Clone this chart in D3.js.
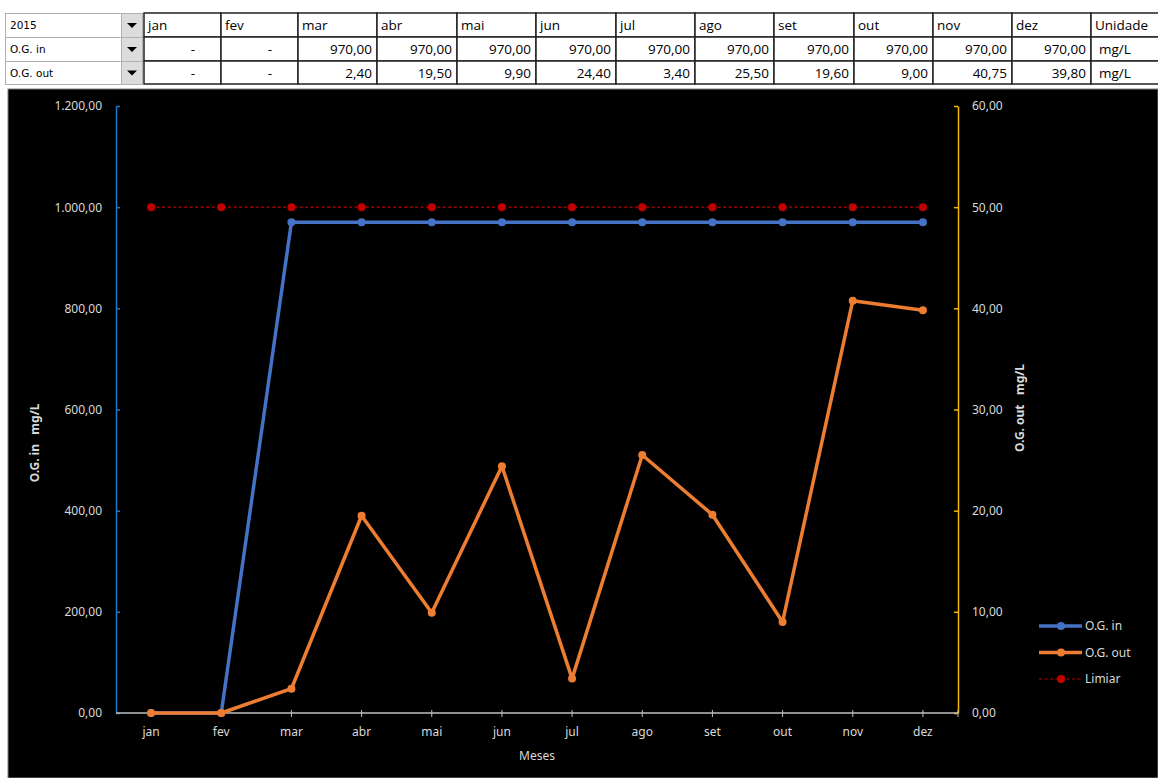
<!DOCTYPE html>
<html>
<head>
<meta charset="utf-8">
<script src="https://cdn.jsdelivr.net/npm/d3@7"></script>
<style>
  html, body { margin: 0; padding: 0; background: #ffffff; }
  svg { display: block; }
  text { white-space: pre; }
</style>
</head>
<body>
<svg id="chart" width="1158" height="778"></svg>
<script>
// Monthly oil & grease (O.G.) readings, 2015
const year = "2015";
const months = ["jan", "fev", "mar", "abr", "mai", "jun", "jul", "ago", "set", "out", "nov", "dez"];
const ogIn  = [0, 0, 970, 970, 970, 970, 970, 970, 970, 970, 970, 970];
const ogOut = [0, 0, 2.4, 19.5, 9.9, 24.4, 3.4, 25.5, 19.6, 9.0, 40.75, 39.8];
const limiar = [1000, 1000, 1000, 1000, 1000, 1000, 1000, 1000, 1000, 1000, 1000, 1000];
const unit = "mg/L";
const rowLabels = ["O.G. in", "O.G. out"];
const leftTicks = [0, 200, 400, 600, 800, 1000, 1200];
const rightTicks = [0, 10, 20, 30, 40, 50, 60];

const br = d3.formatLocale({ decimal: ",", thousands: ".", grouping: [3], currency: ["R$", ""] });
const fmt = br.format(",.2f");
const cellFmt = v => v === 0 ? "-" : fmt(v);

const svg = d3.select("#chart");
const tableFont = "'Open Sans', 'Noto Sans', sans-serif";
const chartFont = "'Noto Sans', 'Open Sans', sans-serif";
const fs = 12;

/* ---------- summary table above the chart ---------- */
const rowY = [13, 37, 61, 84];
const colX = [144, 221, 298, 377, 457, 536, 616, 695, 774, 854, 933, 1012, 1091, 1175];
const table = svg.append("g");

// selector column (label + dropdown button)
const selLabels = [year].concat(rowLabels);
selLabels.forEach((t, i) => {
  table.append("rect").attr("x", 5.5).attr("y", rowY[i] + 0.5)
    .attr("width", 116).attr("height", rowY[i + 1] - rowY[i])
    .attr("fill", "#fff").attr("stroke", "#b0b0b0");
  table.append("rect").attr("x", 121.5).attr("y", rowY[i] + 0.5)
    .attr("width", 21).attr("height", rowY[i + 1] - rowY[i])
    .attr("fill", "#dcdcdc").attr("stroke", "#b0b0b0");
  const cx = 132, cy = (rowY[i] + rowY[i + 1]) / 2 + 1;
  table.append("path").attr("d", `M${cx - 5},${cy - 3}L${cx + 5},${cy - 3}L${cx},${cy + 2}Z`).attr("fill", "#000");
  table.append("text").attr("x", 10).attr("y", (rowY[i] + rowY[i + 1]) / 2 + 4)
    .attr("font-family", "'DejaVu Sans', sans-serif").attr("font-size", 10.5)
    .attr("fill", "#000").text(t);
});

// data grid
const headers = months.concat(["Unidade"]);
const rows = [ogIn.map(cellFmt), ogOut.map(cellFmt)];
for (let r = 0; r < 3; r++) {
  for (let c = 0; c < headers.length; c++) {
    const x0 = colX[c], x1 = colX[c + 1], y0 = rowY[r], y1 = rowY[r + 1];
    table.append("rect").attr("x", x0).attr("y", y0).attr("width", x1 - x0).attr("height", y1 - y0)
      .attr("fill", "#fff").attr("stroke", "#222").attr("stroke-width", 1.5);
    let txt, anchor, tx;
    if (r === 0) { txt = headers[c]; anchor = "start"; tx = x0 + 4; }
    else if (c === headers.length - 1) { txt = unit; anchor = "start"; tx = x0 + 8; }
    else {
      txt = rows[r - 1][c];
      anchor = "end";
      tx = txt === "-" ? x1 - 26 : x1 - 5;
    }
    table.append("text").attr("x", tx).attr("y", (y0 + y1) / 2 + 5)
      .attr("text-anchor", anchor).attr("font-family", tableFont).attr("font-size", 13.5)
      .attr("fill", "#000").text(txt);
  }
}

/* ---------- chart ---------- */
svg.append("rect").attr("x", 8).attr("y", 89).attr("width", 1150).attr("height", 689)
  .attr("fill", "#000").attr("stroke", "#7f7f7f").attr("stroke-width", 1);

const plot = { left: 116, right: 958, top: 106, bottom: 713 };
const x = d3.scaleBand().domain(months).range([plot.left, plot.right]);
const xc = m => x(m) + x.bandwidth() / 2;
const yL = d3.scaleLinear().domain([0, 1200]).range([plot.bottom, plot.top]);
const yR = d3.scaleLinear().domain([0, 60]).range([plot.bottom, plot.top]);

// left axis (O.G. in)
const gL = svg.append("g").attr("transform", `translate(${plot.left},0)`)
  .call(d3.axisLeft(yL).tickValues(leftTicks).tickFormat(fmt).tickSizeInner(-4).tickSizeOuter(0).tickPadding(14));
gL.select(".domain").attr("stroke", "#1f78c8").attr("stroke-width", 1.5);
gL.selectAll(".tick line").attr("stroke", "#1f78c8").attr("stroke-width", 1.5);
gL.selectAll("text").attr("fill", "#d9d9d9").attr("font-family", chartFont).attr("font-size", fs);

// right axis (O.G. out)
const gR = svg.append("g").attr("transform", `translate(${plot.right},0)`)
  .call(d3.axisRight(yR).tickValues(rightTicks).tickFormat(fmt).tickSizeInner(-4).tickSizeOuter(0).tickPadding(14));
gR.select(".domain").attr("stroke", "#f5b800").attr("stroke-width", 1.5);
gR.selectAll(".tick line").attr("stroke", "#f5b800").attr("stroke-width", 1.5);
gR.selectAll("text").attr("fill", "#d9d9d9").attr("font-family", chartFont).attr("font-size", fs);

// category axis
const gX = svg.append("g").attr("transform", `translate(0,${plot.bottom})`);
gX.append("line").attr("x1", plot.left).attr("x2", plot.right).attr("stroke", "#bfbfbf").attr("stroke-width", 1.5);
gX.selectAll("line.tk").data(months.map(xc).concat([plot.right])).join("line").attr("class", "tk")
  .attr("x1", d => d).attr("x2", d => d).attr("y1", -3).attr("y2", 4)
  .attr("stroke", "#bfbfbf").attr("stroke-width", 1);
gX.selectAll("text").data(months).join("text")
  .attr("x", xc).attr("y", 23).attr("text-anchor", "middle")
  .attr("fill", "#d9d9d9").attr("font-family", chartFont).attr("font-size", fs).text(d => d);

// axis titles
svg.append("text").attr("x", 537).attr("y", 760).attr("text-anchor", "middle")
  .attr("fill", "#d9d9d9").attr("font-family", chartFont).attr("font-size", fs).text("Meses");
svg.append("text").attr("transform", "translate(39,443) rotate(-90)").attr("text-anchor", "middle")
  .attr("fill", "#d9d9d9").attr("font-family", chartFont).attr("font-size", fs).attr("font-weight", "bold").text("O.G. in   mg/L");
svg.append("text").attr("transform", "translate(1024,408) rotate(-90)").attr("text-anchor", "middle")
  .attr("fill", "#d9d9d9").attr("font-family", chartFont).attr("font-size", fs).attr("font-weight", "bold").text("O.G. out   mg/L");

// series
const colIn = "#4472c4", colOut = "#ed7d31", colLim = "#c00000";
const lineL = d3.line().x((d, i) => xc(months[i])).y(d => yL(d));
const lineR = d3.line().x((d, i) => xc(months[i])).y(d => yR(d));

function drawSeries(values, lineGen, yScale, color, width, dash, r) {
  const g = svg.append("g");
  g.append("path").attr("d", lineGen(values)).attr("fill", "none").attr("stroke", color)
    .attr("stroke-width", width).attr("stroke-dasharray", dash).attr("stroke-linejoin", "round");
  g.selectAll("circle").data(values).join("circle")
    .attr("cx", (d, i) => xc(months[i])).attr("cy", d => yScale(d)).attr("r", r).attr("fill", color);
}
drawSeries(ogIn, lineL, yL, colIn, 3.5, null, 4);
drawSeries(limiar, lineL, yL, colLim, 1.2, "3,2.5", 4);
drawSeries(ogOut, lineR, yR, colOut, 3.5, null, 4);

// legend
const legend = [
  { name: "O.G. in", color: colIn, w: 3.5, dash: null },
  { name: "O.G. out", color: colOut, w: 3.5, dash: null },
  { name: "Limiar", color: colLim, w: 1.2, dash: "3,2.5" }
];
const lg = svg.append("g");
legend.forEach((d, i) => {
  const y = 626 + i * 26.5;
  lg.append("line").attr("x1", 1039).attr("x2", 1082).attr("y1", y).attr("y2", y)
    .attr("stroke", d.color).attr("stroke-width", d.w).attr("stroke-dasharray", d.dash);
  lg.append("circle").attr("cx", 1061).attr("cy", y).attr("r", 4).attr("fill", d.color);
  lg.append("text").attr("x", 1085).attr("y", y + 4).attr("fill", "#d9d9d9")
    .attr("font-family", chartFont).attr("font-size", fs).text(d.name);
});
</script>
</body>
</html>
